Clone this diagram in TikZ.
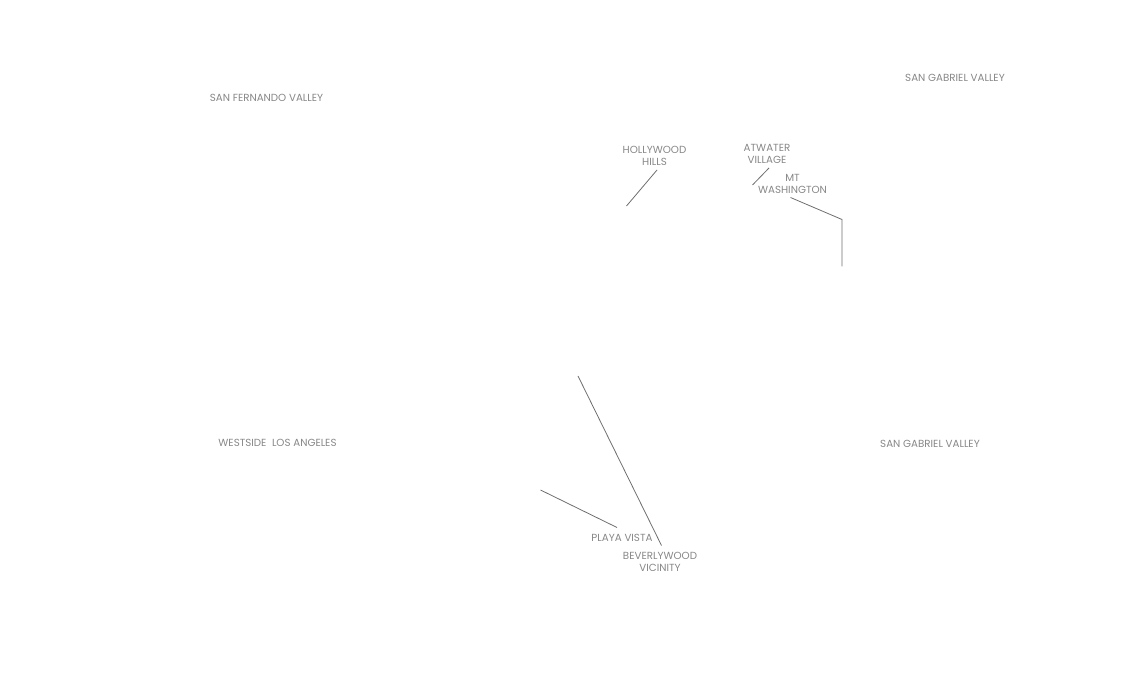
\documentclass[tikz,border=0pt]{standalone}
\usepackage{fontspec}
\setmainfont{Poppins}
\definecolor{labelgray}{RGB}{135,135,135}
\definecolor{leadergray}{RGB}{110,110,110}
\tikzset{every picture/.style={line width=0.75pt}}
\tikzset{
	area label/.style={text=labelgray,font=\fontsize{7.72pt}{9pt}\selectfont,inner sep=0.75pt,align=center},
	leader/.style={draw=leadergray,line width=0.6pt},
}

\begin{document}
\begin{tikzpicture}[x=0.75pt,y=0.75pt,yscale=-1,xscale=1]
	\useasboundingbox (0,0) rectangle (1140,691);
	
	% Text Node
	\node (fernando) at (266.5,97.5) [area label] {SAN FERNANDO VALLEY};
	% Text Node
	\node (gabrielnorth) at (955,77.5) [area label] {SAN GABRIEL VALLEY};
	% Text Node
	\node (westside) at (277.5,442.5) [area label] {WESTSIDE\ \ LOS ANGELES};
	% Text Node
	\node (gabrielsouth) at (930,443.5) [area label] {SAN GABRIEL VALLEY};
	% Text Node
	\node (hollywood) at (654.5,155.5) [area label] {HOLLYWOOD\\HILLS};
	% Text Node
	\node (atwater) at (767,153.5) [area label] {ATWATER\\VILLAGE};
	% Text Node
	\node (washington) at (792.5,183.5) [area label] {MT\\WASHINGTON};
	% Text Node
	\node (playa) at (622,537.5) [area label] {PLAYA VISTA};
	% Text Node
	\node (beverlywood) at (660,561.5) [area label] {BEVERLYWOOD\\VICINITY};
	
	%Leader ends
	\coordinate (hollywoodtop) at (657,170);
	\coordinate (hollywoodend) at (626.5,206);
	\coordinate (atwatertop) at (769,168);
	\coordinate (atwaterend) at (752.5,185);
	\coordinate (washingtontop) at (790.5,197.5);
	\coordinate (washingtonbend) at (842,219.5);
	\coordinate (washingtonend) at (842,266.5);
	\coordinate (playatop) at (617,527.5);
	\coordinate (playaend) at (540.5,490);
	\coordinate (beverlywoodtop) at (661.5,545.5);
	\coordinate (beverlywoodend) at (578,376);
	
	%Straight Lines
	\draw [leader] (hollywoodtop) -- (hollywoodend);
	%Straight Lines
	\draw [leader] (atwatertop) -- (atwaterend);
	%Straight Lines
	\draw [leader] (washingtontop) -- (washingtonbend) -- (washingtonend);
	%Straight Lines
	\draw [leader] (playatop) -- (playaend);
	%Straight Lines
	\draw [leader] (beverlywoodtop) -- (beverlywoodend);
	
\end{tikzpicture}
\end{document}
